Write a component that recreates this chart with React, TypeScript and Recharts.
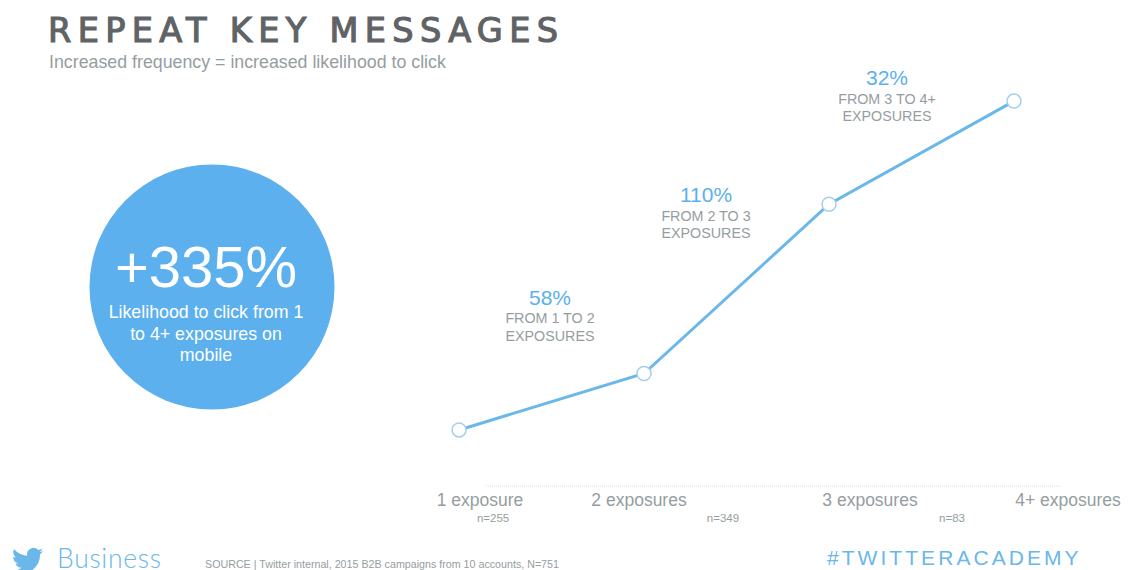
import React from "react";
import { ComposedChart, Line, XAxis, YAxis, LabelList, ReferenceLine } from "recharts";

// Chart values
const exposureSteps = [1, 2, 3, 4];
const exposureLabels = ["1 exposure", "2 exposures", "3 exposures", "4+ exposures"];
const sampleSizes = ["n=255", "n=349", "n=83", ""];
// Click likelihood, indexed to 100 at one exposure
const clickIndex = [100, 158, 332, 438];
const stepGains = ["", "58%", "110%", "32%"];
const stepNotes = [
  [],
  ["FROM 1 TO 2", "EXPOSURES"],
  ["FROM 2 TO 3", "EXPOSURES"],
  ["FROM 3 TO 4+", "EXPOSURES"],
];

const rows = exposureSteps.map((step, i) => ({ step, click: clickIndex[i] }));

// Layout
const WIDTH = 1133;
const HEIGHT = 570;
const X_DOMAIN: [number, number] = [0.897, 4.465];
const Y_DOMAIN: [number, number] = [42.4, 490.5];
const BASELINE: [number, number] = [1.146, 4.254];
const tickOffsets = [21, -5, 41, 54];
const sampleOffsets = [34, 79, 123];
const noteOffsets = [
  { dx: 0, dy: 0 },
  { dx: -94, dy: -69 },
  { dx: -123, dy: -2 },
  { dx: -127, dy: -16 },
];

const BLUE = "#5cb0ee";
const LINE_BLUE = "#6ab7ea";
const GREY = "#959da1";
const SANS = "'Liberation Sans', Arial, sans-serif";

const birdPath =
  "M23.953 4.57a10 10 0 01-2.825.775 4.958 4.958 0 002.163-2.723c-.951.555-2.005.959-3.127 1.184a4.92 4.92 0 00-8.384 4.482C7.69 8.095 4.067 6.13 1.64 3.162a4.822 4.822 0 00-.666 2.475c0 1.71.87 3.213 2.188 4.096a4.904 4.904 0 01-2.228-.616v.06a4.923 4.923 0 003.946 4.827 4.996 4.996 0 01-2.212.085 4.936 4.936 0 004.604 3.417 9.867 9.867 0 01-6.102 2.105c-.39 0-.779-.023-1.17-.067a13.995 13.995 0 007.557 2.209c9.053 0 13.998-7.496 13.998-13.985 0-.21 0-.42-.015-.63A9.935 9.935 0 0024 4.59z";

function ExposureTick(props: any) {
  const { x, y, payload, index } = props;
  const i = index ?? exposureSteps.indexOf(payload.value);
  return (
    <g>
      <text x={x + tickOffsets[i]} y={y + 12} textAnchor="middle" fontFamily={SANS} fontSize={17.5} fill={GREY}>
        {exposureLabels[i]}
      </text>
      {sampleSizes[i] && (
        <text x={x + sampleOffsets[i]} y={y + 28} textAnchor="middle" fontFamily={SANS} fontSize={11.5} fill={GREY}>
          {sampleSizes[i]}
        </text>
      )}
    </g>
  );
}

function StepNote(props: any) {
  const { x, y, index } = props;
  if (!stepGains[index]) return null;
  const cx = x + noteOffsets[index].dx;
  const cy = y + noteOffsets[index].dy;
  return (
    <g textAnchor="middle" fontFamily={SANS}>
      <text x={cx} y={cy} fontSize={21} fill={BLUE}>
        {stepGains[index]}
      </text>
      {stepNotes[index].map((line, k) => (
        <text key={line} x={cx} y={cy + 18.5 + k * 17.5} fontSize={14.3} fill={GREY}>
          {line}
        </text>
      ))}
    </g>
  );
}

function Backdrop() {
  return (
    <svg width={WIDTH} height={HEIGHT} style={{ position: "absolute", left: 0, top: 0 }}>
      <rect width={WIDTH} height={HEIGHT} fill="#fff" />
      <text
        x={48}
        y={42}
        fontFamily="'DejaVu Sans', sans-serif"
        fontSize={33.5}
        textLength={510}
        lengthAdjust="spacing"
        stroke="#5f6366"
        strokeWidth={1.2}
        fill="#5f6366"
      >
        REPEAT KEY MESSAGES
      </text>
      <text x={49} y={68} fontFamily={SANS} fontSize={17.8} fill={GREY}>
        Increased frequency = increased likelihood to click
      </text>
      <circle cx={212} cy={287} r={122.5} fill={BLUE} />
      <g textAnchor="middle" fontFamily={SANS} fill="#fff">
        <text x={206} y={287} fontSize={58}>+335%</text>
        <text x={206} y={318} fontSize={17.8}>Likelihood to click from 1</text>
        <text x={206} y={340} fontSize={17.8}>to 4+ exposures on</text>
        <text x={206} y={361} fontSize={17.8}>mobile</text>
      </g>
      <path d={birdPath} transform="translate(12 545) scale(1.3)" fill={LINE_BLUE} />
      <text x={57} y={568} fontFamily="Lato, sans-serif" fontWeight={300} fontSize={26.5} letterSpacing={0.7} fill={LINE_BLUE}>
        Business
      </text>
      <text x={205} y={568} fontFamily={SANS} fontSize={10.7} fill={GREY}>
        SOURCE | Twitter internal, 2015 B2B campaigns from 10 accounts, N=751
      </text>
      <text x={827} y={565} fontFamily={SANS} fontSize={21} letterSpacing={3.05} fill={LINE_BLUE}>
        #TWITTERACADEMY
      </text>
    </svg>
  );
}

export default function App() {
  return (
    <div style={{ position: "absolute", left: 0, top: 0, width: WIDTH, height: HEIGHT, overflow: "hidden", background: "#fff" }}>
      <Backdrop />
      <div style={{ position: "absolute", left: 0, top: 0 }}>
        <ComposedChart
          width={WIDTH}
          height={HEIGHT}
          data={rows}
          margin={{ top: 50, right: 33, bottom: 0, left: 440 }}
        >
          <XAxis
            dataKey="step"
            type="number"
            domain={X_DOMAIN}
            ticks={exposureSteps}
            allowDataOverflow
            axisLine={false}
            tickLine={false}
            interval={0}
            height={84}
            tick={<ExposureTick />}
          />
          <YAxis hide type="number" domain={Y_DOMAIN} allowDataOverflow />
          <ReferenceLine
            segment={[
              { x: BASELINE[0], y: Y_DOMAIN[0] },
              { x: BASELINE[1], y: Y_DOMAIN[0] },
            ]}
            stroke="#d9dcdd"
            strokeWidth={1}
            strokeDasharray="1 1"
          />
          <Line
            dataKey="click"
            type="linear"
            stroke={LINE_BLUE}
            strokeWidth={3}
            isAnimationActive={false}
            dot={{ r: 7, fill: "#fff", stroke: "#a6cfea", strokeWidth: 1.5 }}
            activeDot={false}
          >
            <LabelList dataKey="click" content={<StepNote />} />
          </Line>
        </ComposedChart>
      </div>
    </div>
  );
}
